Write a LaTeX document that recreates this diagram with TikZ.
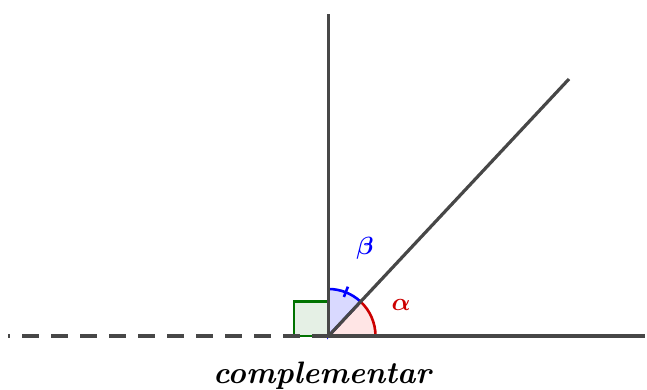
\documentclass[tikz,border=0pt]{standalone}
\usepackage{amsmath,bm}
\usetikzlibrary{calc}
\begin{document}
\begin{tikzpicture}[x=1pt,y=1pt,
  ray/.style={line width=3.2pt,draw=black!72},
  dashray/.style={line width=3.2pt,draw=black!72,dash pattern=on 17pt off 12pt},
  redarc/.style={line width=2.6pt,draw=red!80!black,fill=red!10},
  bluearc/.style={line width=2.6pt,draw=blue,fill=blue!15},
  greensq/.style={line width=2.6pt,draw=green!45!black,fill=green!40!black!10},
  lab/.style={font=\fontsize{31}{36}\selectfont,inner sep=0pt}]
\useasboundingbox (0,0) rectangle (647,390);
\coordinate (O) at (328.5,54);
\coordinate (R) at (645,54);
\coordinate (L) at (8,54);
\coordinate (U) at (328.5,376);
\coordinate (D) at (569,311);
% right-angle square
\draw[greensq] (O) rectangle ++(-34.5,34.5);
% alpha sector
\draw[redarc] (O) -- ++(0:47) arc[start angle=0,end angle=47,radius=47] -- cycle;
% beta sector
\draw[bluearc] (O) -- ++(47:47) arc[start angle=47,end angle=90,radius=47] -- cycle;
\coordinate (T1) at ($(O)+(68.5:42)$);
\coordinate (T2) at ($(O)+(68.5:53)$);
\draw[line width=2.6pt,blue] (T1) -- (T2);
% rays
\draw[ray] (O) -- (R);
\draw[dashray] (O) -- (L);
\draw[ray] (O) -- (U);
\draw[ray] (O) -- (D);
% labels
\node[lab,text=blue] (beta) at (365,142) {$\bm{\beta}$};
\node[lab,text=red!80!black] (alpha) at (401,85) {$\bm{\alpha}$};
\node[lab] (cap) at (322,14) {\bfseries\itshape complementar};
\end{tikzpicture}
\end{document}
